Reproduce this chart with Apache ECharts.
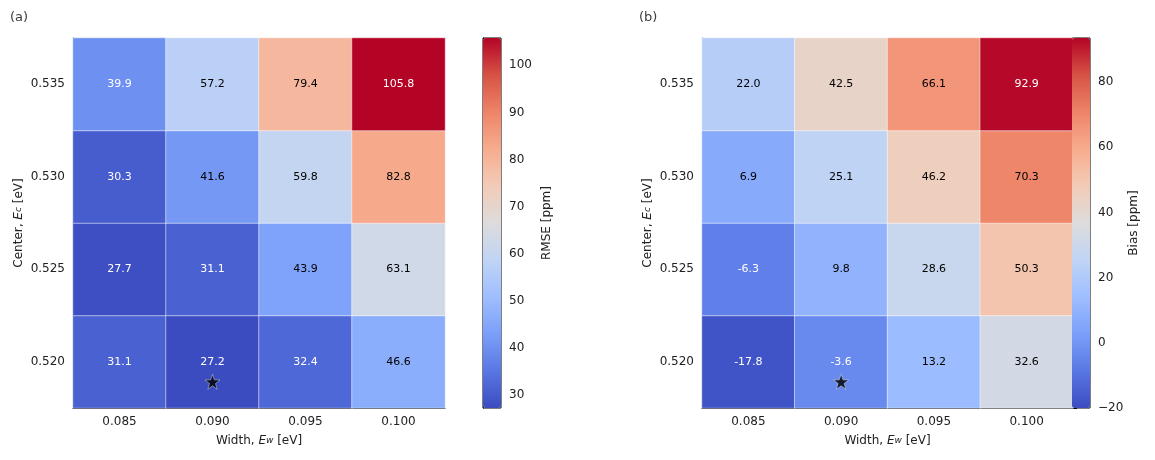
<!DOCTYPE html>
<html><head><meta charset="utf-8">
<script src="https://cdn.jsdelivr.net/npm/echarts@6/dist/echarts.min.js"></script>
<style>html,body{margin:0;background:#fff}#c{width:1155px;height:460px}</style>
</head><body><div id="c"></div>
<script>
var widths = ['0.085', '0.090', '0.095', '0.100'];
var centers = ['0.520', '0.525', '0.530', '0.535'];
// rows from 0.520 up to 0.535
var rmse = [
  [31.1, 27.2, 32.4, 46.6],
  [27.7, 31.1, 43.9, 63.1],
  [30.3, 41.6, 59.8, 82.8],
  [39.9, 57.2, 79.4, 105.8]
];
var bias = [
  [-17.8, -3.6, 13.2, 32.6],
  [-6.3, 9.8, 28.6, 50.3],
  [6.9, 25.1, 46.2, 70.3],
  [22.0, 42.5, 66.1, 92.9]
];
var rmseTicks = [30, 40, 50, 60, 70, 80, 90, 100];
var biasTicks = [-20, 0, 20, 40, 60, 80];
var best = ['0.090', '0.520'];
var coolwarm = ['#3b4cc0', '#5977e3', '#7b9ff9', '#9ebeff', '#c0d4f5', '#dddcdc', '#f2cbb7', '#f7ac8e', '#ee8468', '#d65244', '#b40426'];

function cells(m, lo, hi) {
  var out = [];
  m.forEach(function (row, j) {
    row.forEach(function (v, i) {
      var t = (v - lo) / (hi - lo);
      out.push({ value: [i, j, v], label: { color: (t < 0.17 || t > 0.85) ? '#fff' : '#000' } });
    });
  });
  return out;
}
var font = 'DejaVu Sans';
var rich = { a: { fontSize: 12, fontFamily: font, color: '#222' }, i: { fontSize: 12, fontStyle: 'italic', fontFamily: font, color: '#222' }, s: { fontSize: 9, fontStyle: 'italic', fontFamily: font, color: '#222' } };
function xAx(g) {
  return { type: 'category', gridIndex: g, data: widths, name: '{a|Width, }{i|E}{s|w}{a| [eV]}', nameLocation: 'middle', nameGap: 27,
    nameTextStyle: { rich: rich },
    axisLine: { lineStyle: { color: '#000' } }, axisTick: { alignWithLabel: true, lineStyle: { color: '#000' } },
    axisLabel: { color: '#222', fontSize: 12, fontFamily: font }, splitLine: { show: false } };
}
function yAx(g) {
  return { type: 'category', gridIndex: g, data: centers, name: '{a|Center, }{i|E}{s|c}{a| [eV]}', nameLocation: 'middle', nameGap: 48, nameRotate: 90,
    nameTextStyle: { rich: rich },
    axisLine: { lineStyle: { color: '#000' } }, axisTick: { alignWithLabel: true, lineStyle: { color: '#000' } },
    axisLabel: { color: '#222', fontSize: 12, fontFamily: font }, splitLine: { show: false } };
}
function cbAx(g, lo, hi, ticks, name, gap) {
  return { type: 'value', gridIndex: g, min: lo, max: hi, position: 'right', name: name, nameLocation: 'middle', nameGap: gap, nameRotate: 90,
    nameTextStyle: { fontSize: 12, fontFamily: font, color: '#222' },
    axisLine: { show: true, lineStyle: { color: '#000' } },
    axisTick: { show: true, customValues: ticks, lineStyle: { color: '#000' } },
    axisLabel: { color: '#222', fontSize: 12, fontFamily: font, customValues: ticks,
      formatter: function (v) { return v < 0 ? '\u2212' + Math.abs(v) : String(v); } },
    splitLine: { show: false } };
}
var star = 'path://M0,-10L2.35,-3.24L9.51,-3.09L3.8,1.24L5.88,8.09L0,4L-5.88,8.09L-3.8,1.24L-9.51,-3.09L-2.35,-3.24Z';
var chart = echarts.init(document.getElementById('c'));
chart.setOption({
  backgroundColor: '#fff',
  title: [
    { text: '(a)', left: 5, top: 6, textStyle: { fontSize: 13, fontWeight: 'normal', fontFamily: font } },
    { text: '(b)', left: 634, top: 6, textStyle: { fontSize: 13, fontWeight: 'normal', fontFamily: font } }
  ],
  grid: [
    { left: 73, top: 38, width: 372, height: 370 },
    { left: 702, top: 38, width: 371, height: 370 },
    { left: 483, top: 38, width: 18, height: 370, show: true, borderColor: '#000', borderWidth: 1 },
    { left: 1072, top: 38, width: 18, height: 370, show: true, borderColor: '#000', borderWidth: 1 }
  ],
  xAxis: [xAx(0), xAx(1),
    { type: 'value', gridIndex: 2, show: false }, { type: 'value', gridIndex: 3, show: false }],
  yAxis: [yAx(0), yAx(1), cbAx(2, 27.2, 105.8, rmseTicks, 'RMSE [ppm]', 40), cbAx(3, -20, 93.5, biasTicks, 'Bias [ppm]', 38)],
  visualMap: [
    { type: 'continuous', seriesIndex: 0, min: 27.2, max: 105.8, inRange: { color: coolwarm }, left: 483, top: 38, itemWidth: 18, itemHeight: 370, padding: 0, text: ['', ''], showLabel: false, calculable: false, textGap: 0 },
    { type: 'continuous', seriesIndex: 1, min: -20, max: 93.5, inRange: { color: coolwarm }, left: 1072, top: 38, itemWidth: 18, itemHeight: 370, padding: 0, text: ['', ''], showLabel: false, calculable: false, textGap: 0 }
  ],
  series: [
    { type: 'heatmap', xAxisIndex: 0, yAxisIndex: 0, data: cells(rmse, 27.2, 105.8),
      label: { show: true, fontSize: 11, fontFamily: font, formatter: function (p) { return p.value[2].toFixed(1); } },
      itemStyle: { borderColor: 'rgba(255,255,255,0.5)', borderWidth: 1 } },
    { type: 'heatmap', xAxisIndex: 1, yAxisIndex: 1, data: cells(bias, -20, 93.5),
      label: { show: true, fontSize: 11, fontFamily: font, formatter: function (p) { return p.value[2].toFixed(1); } },
      itemStyle: { borderColor: 'rgba(255,255,255,0.5)', borderWidth: 1 } },
    { type: 'scatter', xAxisIndex: 0, yAxisIndex: 0, data: [best], symbol: star, symbolSize: 15, symbolOffset: [0, 20], itemStyle: { color: '#000', borderColor: '#fff', borderWidth: 0.5 }, z: 10 },
    { type: 'scatter', xAxisIndex: 1, yAxisIndex: 1, data: [best], symbol: star, symbolSize: 15, symbolOffset: [0, 20], itemStyle: { color: '#000', borderColor: '#fff', borderWidth: 0.5 }, z: 10 }
  ]
});
</script></body></html>
